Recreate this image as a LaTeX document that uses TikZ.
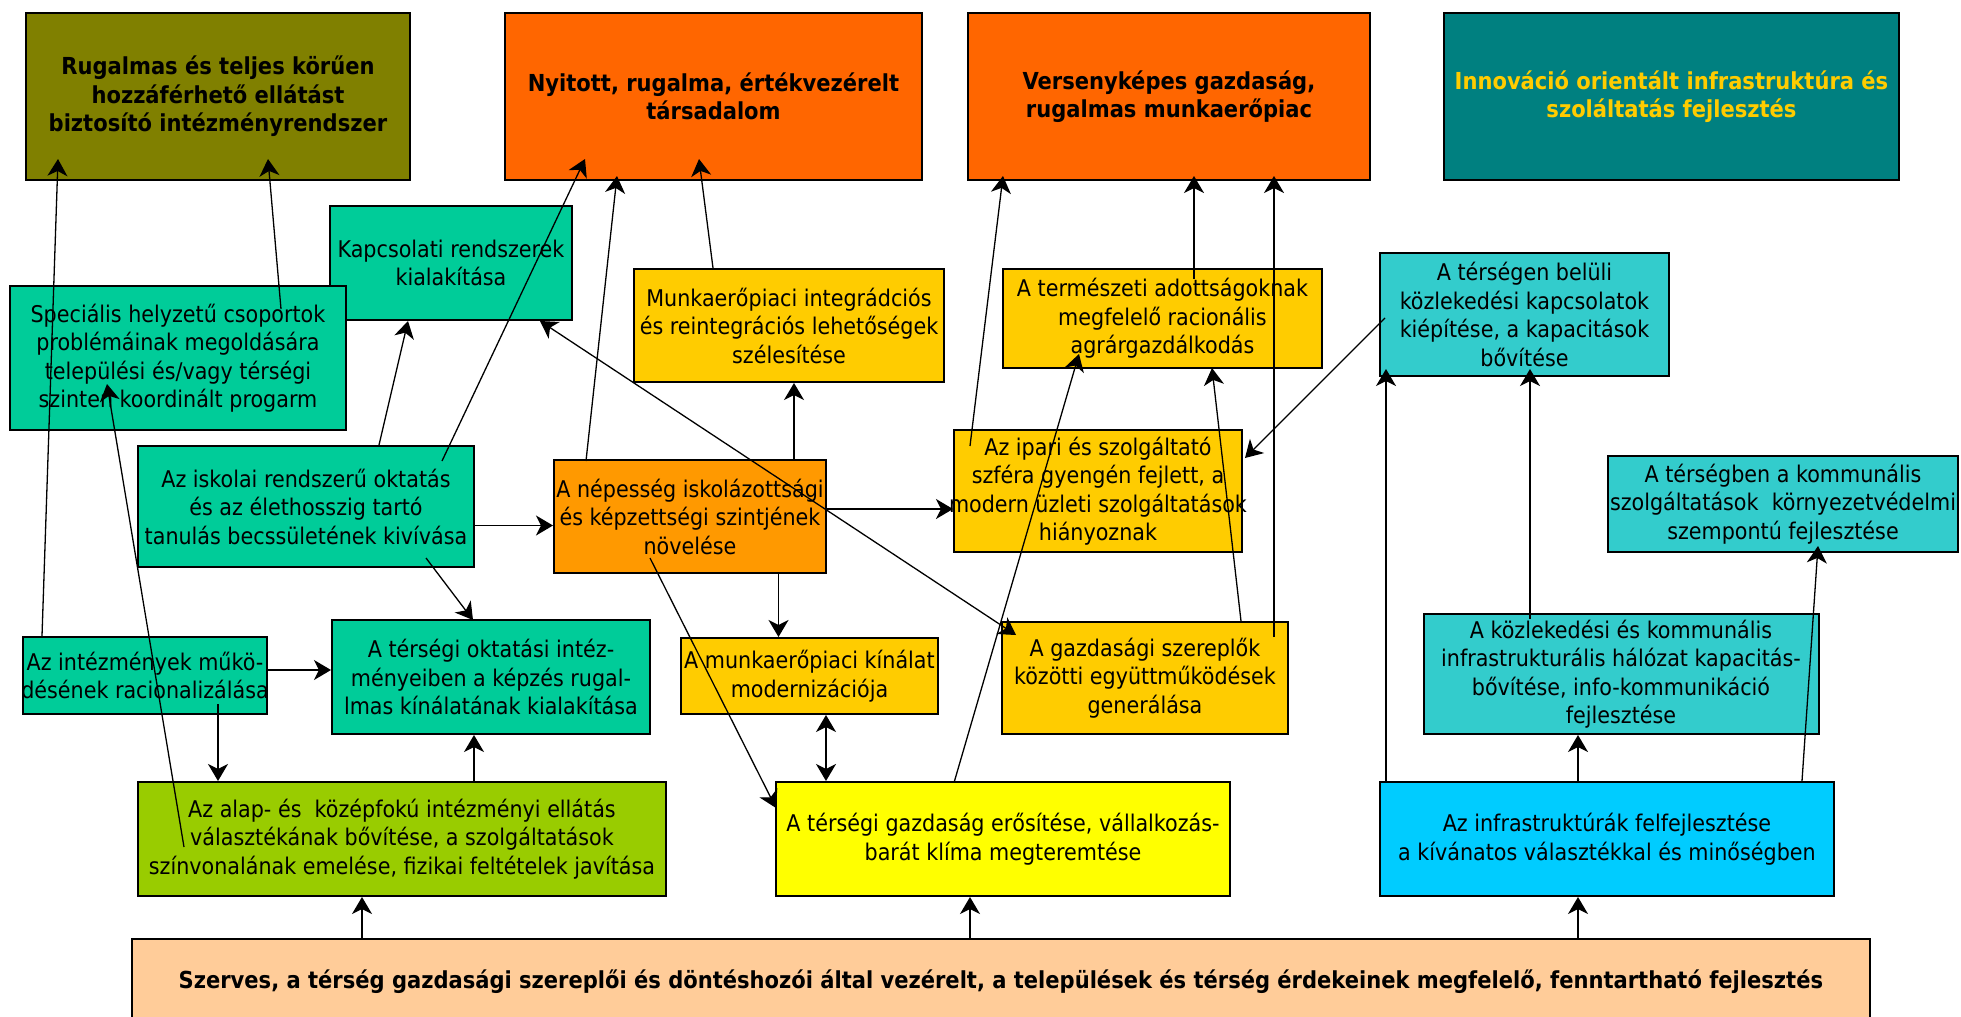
\documentclass[tikz,border=0pt]{standalone}
\usepackage{fontspec}
\setmainfont{DejaVu Sans Condensed}
\usetikzlibrary{arrows.meta,calc}
\definecolor{olajzold}{HTML}{808000}
\definecolor{narancs}{HTML}{FF6600}
\definecolor{kekeszold}{HTML}{008080}
\definecolor{sarga}{HTML}{FFCC00}
\definecolor{zold}{HTML}{00CC99}
\definecolor{turkiz}{HTML}{33CCCC}
\definecolor{narancsv}{HTML}{FF9900}
\definecolor{sargazold}{HTML}{99CC00}
\definecolor{citrom}{HTML}{FFFF00}
\definecolor{egkek}{HTML}{00CCFF}
\definecolor{barack}{HTML}{FFCC99}
\begin{document}
\begin{tikzpicture}[x=0.5pt,y=-0.5pt,
  doboz/.style={draw=black,line width=1pt,align=center,inner xsep=-15pt,inner ysep=0pt,
    font=\fontsize{11.5}{14.25}\selectfont},
  cel/.style={doboz,font=\fontsize{11.7}{14.25}\selectfont\bfseries,minimum height=83.5pt},
  nyil/.style={-{Stealth[length=8.5pt,width=10pt,inset=2.5pt]},line width=0.65pt},
  ketnyil/.style={{Stealth[length=8.5pt,width=10pt,inset=2.5pt]}-{Stealth[length=8.5pt,width=10pt,inset=2.5pt]},line width=0.65pt}]
  \useasboundingbox (0,0) rectangle (1961,1017);
  %Goals
  \node[cel,fill=olajzold,minimum width=192pt] (rug) at (218,96.5) {Rugalmas és teljes körűen\\hozzáférhető ellátást\\biztosító intézményrendszer};
  \node[cel,fill=narancs,minimum width=208.5pt] (nyit) at (713.5,96.5) {Nyitott, rugalma, értékvezérelt\\társadalom};
  \node[cel,fill=narancs,minimum width=201pt] (vers) at (1169,96.5) {Versenyképes gazdaság,\\rugalmas munkaerőpiac};
  \node[cel,fill=kekeszold,text=sarga,minimum width=227.5pt] (inno) at (1671.5,96.5) {Innováció orientált infrastruktúra és\\szoláltatás fejlesztés};
  %Upper row
  \node[doboz,fill=zold,minimum width=121pt,minimum height=57pt] (kapcs) at (451,263) {Kapcsolati rendszerek\\kialakítása};
  \node[doboz,fill=zold,minimum width=168pt,minimum height=72pt] (spec) at (178,358) {Speciális helyzetű csoportok\\problémáinak megoldására\\települési és/vagy térségi\\szinten koordinált progarm};
  \node[doboz,fill=sarga,minimum width=155pt,minimum height=56.5pt] (munki) at (789,325.5) {Munkaerőpiaci integrádciós\\és reintegrációs lehetőségek\\szélesítése};
  \node[doboz,fill=sarga,minimum width=159.5pt,minimum height=49.5pt] (term) at (1162.5,318.5) {A természeti adottságoknak\\megfelelő racionális\\agrárgazdálkodás};
  \node[doboz,fill=turkiz,minimum width=144.5pt,minimum height=61.5pt] (belul) at (1524.5,314.5) {A térségen belüli\\közlekedési kapcsolatok\\kiépítése, a kapacitások\\bővítése};
  %Middle row
  \node[doboz,fill=zold,minimum width=168pt,minimum height=60.5pt] (isk) at (306,506.5) {Az iskolai rendszerű oktatás\\és az élethosszig tartó\\tanulás becssületének kivívása};
  \node[doboz,fill=narancsv,minimum width=136pt,minimum height=56.5pt] (nep) at (690,516.5) {A népesség iskolázottsági\\és képzettségi szintjének\\növelése};
  \node[doboz,fill=sarga,minimum width=144pt,minimum height=61pt] (ipari) at (1098,491) {Az ipari és szolgáltató\\szféra gyengén fejlett, a\\modern üzleti szolgáltatások\\hiányoznak};
  \node[doboz,fill=turkiz,minimum width=175pt,minimum height=48pt] (komm) at (1783,504) {A térségben a kommunális\\szolgáltatások\ \ környezetvédelmi\\szempontú fejlesztése};
  %Lower row
  \node[doboz,fill=zold,minimum width=122pt,minimum height=38.5pt] (intez) at (145,675.5) {Az intézmények műkö-\\désének racionalizálása};
  \node[doboz,fill=zold,minimum width=159pt,minimum height=57pt] (tokt) at (491,677) {A térségi oktatási intéz-\\ményeiben a képzés rugal-\\lmas kínálatának kialakítása};
  \node[doboz,fill=sarga,minimum width=128.5pt,minimum height=38pt] (munkk) at (809.5,676) {A munkaerőpiaci kínálat\\modernizációja};
  \node[doboz,fill=sarga,minimum width=143pt,minimum height=56pt] (gszer) at (1145,678) {A gazdasági szereplők\\közötti együttműködések\\generálása};
  \node[doboz,fill=turkiz,minimum width=197.5pt,minimum height=60pt] (kozl) at (1621,674) {A közlekedési és kommunális\\infrastrukturális hálózat kapacitás-\\bővítése, info-kommunikáció\\fejlesztése};
  %Base programs
  \node[doboz,fill=sargazold,minimum width=264pt,minimum height=57pt] (alap) at (402,839) {Az alap- és\ \ középfokú intézményi ellátás\\választékának bővítése, a szolgáltatások\\színvonalának emelése, fizikai feltételek javítása};
  \node[doboz,fill=citrom,minimum width=227pt,minimum height=57pt] (tgazd) at (1003,839) {A térségi gazdaság erősítése, vállalkozás-\\barát klíma megteremtése};
  \node[doboz,fill=egkek,minimum width=227pt,minimum height=57pt] (infra) at (1607,839) {Az infrastruktúrák felfejlesztése\\a kívánatos választékkal és minőségben};
  \node[doboz,fill=barack,font=\fontsize{11.7}{14.25}\selectfont\bfseries,minimum width=869pt,minimum height=43pt] (szerv) at (1001,982) {Szerves, a térség gazdasági szereplői és döntéshozói által vezérelt, a települések és térség érdekeinek megfelelő, fenntartható fejlesztés};
  %Links to the goals
  \draw[nyil] ($(intez.north)+(-103,0)$) -- ($(rug.south)+(-160,-22)$);
  \draw[nyil] ($(spec.north)+(103,24)$) -- ($(rug.south)+(50,-22)$);
  \draw[nyil] ($(alap.west)+(47,8)$) -- ($(spec.south)+(-71,-47)$);
  \draw[nyil] ($(isk.north)+(73,0)$) -- ($(kapcs.south)+(-43,0)$);
  \draw[nyil] ($(isk.north)+(136,16)$) -- ($(nyit.south)+(-128.5,-22)$);
  \draw[nyil] ($(nep.north)+(-104,2)$) -- ($(nyit.south)+(-96.5,-5)$);
  \draw[nyil] ($(munki.north)+(-76,0)$) -- ($(nyit.south)+(-14.5,-22)$);
  \draw[nyil] ($(nep.north)+(104,0)$) -- ($(munki.south)+(5,0)$);
  \draw[ketnyil] ($(kapcs.south)+(89,0)$) -- ($(gszer.north)+(-129,14)$);
  \draw[nyil] ($(isk.east)+(0,19)$) -- ($(nep.west)+(0,9)$);
  \draw[nyil] ($(isk.south)+(120,-10)$) -- ($(tokt.north)+(-18,1)$);
  \draw[nyil] ($(intez.east)+(0,-5.5)$) -- ($(tokt.west)+(0,-7)$);
  \draw[nyil] ($(intez.south)+(73,-11)$) -- ($(alap.north)+(-184,0)$);
  \draw[nyil] ($(alap.north)+(72,0)$) -- ($(tokt.south)+(-17,0)$);
  \draw[nyil] ($(nep.south)+(88.5,0)$) -- ($(munkk.north)+(-31,0)$);
  \draw[nyil] ($(nep.east)+(0,-7.5)$) -- ($(ipari.west)+(0,18)$);
  \draw[nyil] ($(nep.south)+(-40,-16)$) -- ($(tgazd.west)+(1,-31)$);
  \draw[ketnyil] ($(munkk.south)+(16.5,0)$) -- ($(tgazd.north)+(-177,0)$);
  \draw[nyil] ($(tgazd.north)+(-48.5,0)$) -- ($(term.south)+(-83.5,-15)$);
  \draw[nyil] ($(ipari.north)+(-128,17)$) -- ($(vers.south)+(-166,-5)$);
  \draw[nyil] ($(term.north)+(31.5,11)$) -- ($(vers.south)+(25,-5)$);
  \draw[nyil] ($(gszer.north)+(129,16)$) -- ($(vers.south)+(105,-5)$);
  \draw[nyil] ($(gszer.north)+(96,0)$) -- ($(term.south)+(49.5,-1)$);
  \draw[nyil] ($(belul.west)+(6,3.5)$) -- ($(ipari.east)+(2,-33)$);
  \draw[nyil] ($(infra.north)+(-221,0)$) -- ($(belul.south)+(-138.5,-8)$);
  \draw[nyil] ($(kozl.north)+(-91,5.5)$) -- ($(belul.south)+(5.5,-8)$);
  \draw[nyil] ($(infra.north)+(-29,0)$) -- ($(kozl.south)+(-43,0)$);
  \draw[nyil] ($(infra.north)+(195,0)$) -- ($(komm.south)+(35,-7)$);
  %From the base
  \draw[nyil] ($(szerv.north)+(-639,0)$) -- ($(alap.south)+(-40,0)$);
  \draw[nyil] ($(szerv.north)+(-31,0)$) -- ($(tgazd.south)+(-33,0)$);
  \draw[nyil] ($(szerv.north)+(577,0)$) -- ($(infra.south)+(-29,0)$);
\end{tikzpicture}
\end{document}
